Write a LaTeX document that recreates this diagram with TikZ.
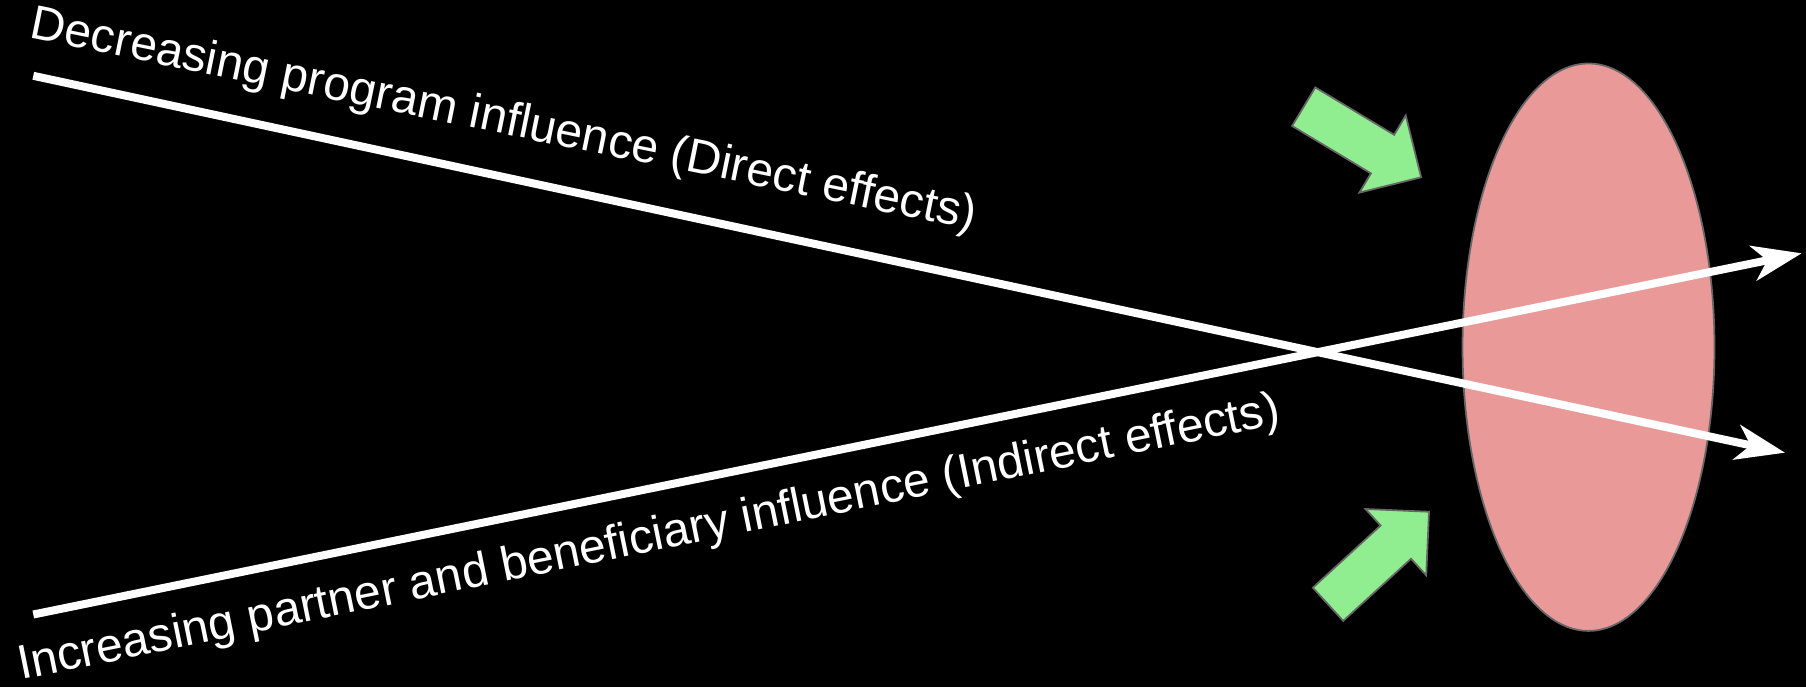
\documentclass[tikz,border=0pt]{standalone}
\usepackage{fontspec}
\setmainfont{Liberation Sans}
\usetikzlibrary{arrows.meta,shapes.geometric}
\definecolor{zonepink}{HTML}{EA9999}
\definecolor{pushgreen}{HTML}{90EE90}
\definecolor{edgegray}{HTML}{666666}
\tikzset{
  zonebox/.style={ellipse, fill=zonepink, draw=edgegray, line width=1pt,
    inner sep=0pt, minimum width=5.04cm, minimum height=11.35cm},
  influence/.style={draw=white, line width=0.16cm,
    -{Stealth[length=28pt, width=20pt, inset=8pt]}},
  slopelabel/.style={text=white, inner sep=0pt, font=\fontsize{27.3}{32}\selectfont},
  pushbox/.style={fill=pushgreen, draw=edgegray, line width=1pt},
}

\begin{document}
\begin{tikzpicture}[x=0.02cm, y=-0.02cm]
  \fill[black] (0,0) rectangle (1806,687);
  \useasboundingbox (0,0) rectangle (1806,687);

  \node[zonebox] (zone) at (1588.5,347.2) {};

  % free ends of the two influence lines
  \coordinate (directstart) at (33.3,75.8);
  \coordinate (directend) at (1785,452.7);
  \coordinate (indirectstart) at (33.3,614.5);
  \coordinate (indirectend) at (1801.7,253.3);

  \draw[influence] (directstart) -- (directend);
  \draw[influence] (indirectstart) -- (indirectend);

  \node[slopelabel, anchor=base west, rotate=-11.5] (directlabel) at (28.5,37.5)
    {Decreasing program influence (Direct effects)};
  \node[slopelabel, anchor=base west, rotate=11.5] (indirectlabel) at (20.7,680)
    {Increasing partner and beneficiary influence (Indirect effects)};

  % green push arrows
  \begin{scope}[shift={(1303.7,106.7)}, rotate=-31]
    \draw[pushbox] (0,-22.5) -- (92,-22.5) -- (92,-45) -- (137,0)
      -- (92,45) -- (92,22.5) -- (0,22.5) -- cycle;
  \end{scope}
  \begin{scope}[shift={(1328,604.3)}, rotate=42.5]
    \draw[pushbox] (0,-22.5) -- (92,-22.5) -- (92,-45) -- (137,0)
      -- (92,45) -- (92,22.5) -- (0,22.5) -- cycle;
  \end{scope}
\end{tikzpicture}
\end{document}
